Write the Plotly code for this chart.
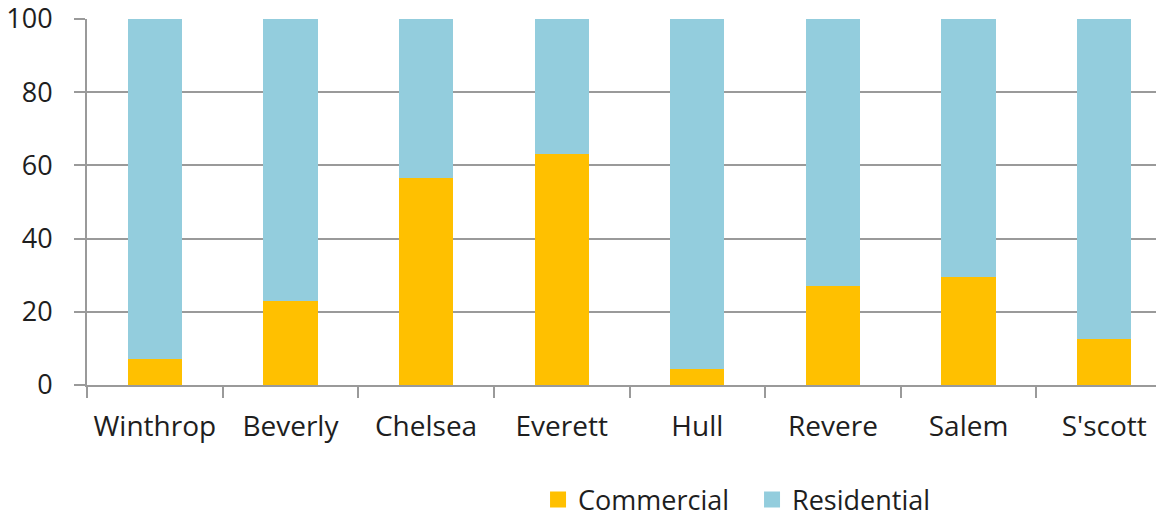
import plotly.graph_objects as go

towns = ["Winthrop", "Beverly", "Chelsea", "Everett", "Hull", "Revere", "Salem", "S'scott"]
commercial = [7, 23, 56.5, 63, 4.5, 27, 29.5, 12.5]
residential = [100 - c for c in commercial]
y_ticks = [0, 20, 40, 60, 80, 100]
series = [("Commercial", commercial, "#FFC000"), ("Residential", residential, "#93CDDD")]

FONT = "Open Sans"
TXT = "#1e1e1e"

fig = go.Figure()
for name, vals, color in series:
    fig.add_trace(go.Bar(x=towns, y=vals, name=name, showlegend=False,
                         marker=dict(color=color, line=dict(width=0)), width=0.4))
# legend entries with larger square swatches
for name, vals, color in series:
    fig.add_trace(go.Scatter(x=[None], y=[None], mode="markers", name=name,
                             marker=dict(symbol="square", size=16, color=color)))

fig.update_layout(
    barmode="stack",
    width=1164, height=516,
    margin=dict(l=79, r=0, t=11, b=139, autoexpand=False),
    plot_bgcolor="white", paper_bgcolor="white",
    font=dict(family=FONT, size=27, color=TXT),
    showlegend=True,
    legend=dict(orientation="h", x=0.4157, xanchor="left", y=-0.314, yanchor="middle",
                font=dict(family=FONT, size=27, color=TXT), itemwidth=30,
                itemsizing="trace", entrywidth=169, entrywidthmode="pixels",
                traceorder="normal"),
    xaxis=dict(type="category", range=[-0.5, 7.5], showgrid=False, automargin=False,
               showline=True, linecolor="#9a9a9a", linewidth=2,
               ticks="outside", tickson="boundaries", ticklen=11, tickwidth=2,
               tickcolor="#9a9a9a", ticklabelstandoff=15,
               tickfont=dict(family=FONT, size=28, color=TXT)),
    yaxis=dict(range=[0, 100], tickvals=y_ticks, showgrid=True, gridcolor="#9a9a9a",
               gridwidth=2, showline=True, linecolor="#9a9a9a", linewidth=2,
               ticks="outside", ticklen=11, tickwidth=2, tickcolor="#9a9a9a",
               zeroline=False, ticklabelstandoff=16, automargin=False,
               ticklabeloverflow="allow",
               tickfont=dict(family=FONT, size=27, color=TXT)),
)

fig.write_html("out.html")
